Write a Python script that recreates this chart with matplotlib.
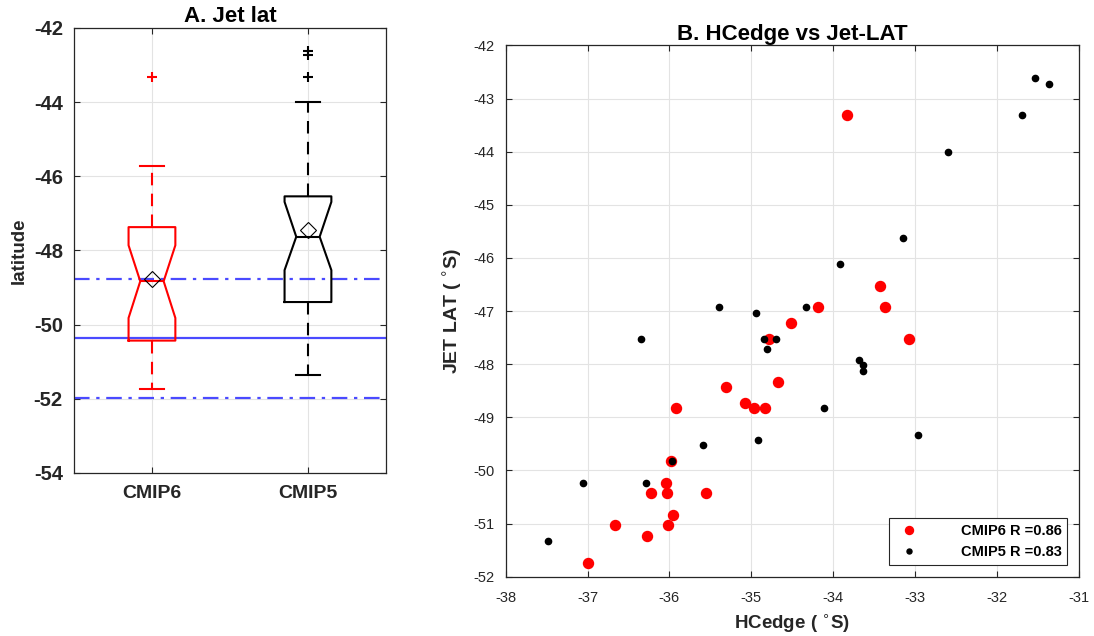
import matplotlib
matplotlib.use("Agg")
import matplotlib.pyplot as plt

plt.rcParams['font.family'] = ['Liberation Sans', 'DejaVu Sans']
plt.rcParams['axes.unicode_minus'] = False

# box statistics
models = ['CMIP6', 'CMIP5']
box_colors = ['red', 'black']
q1 = [-50.43, -49.39]
q3 = [-47.37, -46.54]
medians = [-48.83, -47.63]
means = [-48.78, -47.44]
whislo = [-51.73, -51.35]
whishi = [-45.71, -44.00]
notch_lo = [-49.82, -48.53]
notch_hi = [-47.86, -46.69]
outliers = [[-43.31], [-42.61, -42.72, -43.31]]

# reference lines (blue)
ref_mean = -50.37
ref_lo = -51.97
ref_hi = -48.77

# scatter data for panel B
cmip6_hc = [-37.00, -36.66, -36.27, -36.22, -36.04, -36.03, -36.02, -35.96,
            -35.98, -35.92, -35.55, -35.31, -35.08, -34.97, -34.83, -34.78,
            -34.67, -34.51, -34.18, -33.83, -33.43, -33.37, -33.07]
cmip6_jet = [-51.74, -51.03, -51.23, -50.43, -50.23, -50.43, -51.03, -50.83,
             -49.83, -48.83, -50.43, -48.42, -48.73, -48.83, -48.83, -47.52,
             -48.33, -47.22, -46.92, -43.31, -46.52, -46.92, -47.52]
cmip5_hc = [-37.48, -37.05, -36.35, -36.29, -35.97, -35.59, -35.39, -34.94,
            -34.92, -34.85, -34.81, -34.70, -34.33, -34.11, -33.92, -33.68,
            -33.64, -33.64, -33.15, -32.96, -32.60, -31.70, -31.54, -31.36]
cmip5_jet = [-51.33, -50.23, -47.52, -50.23, -49.83, -49.53, -46.92, -47.03,
             -49.43, -47.52, -47.72, -47.52, -46.92, -48.83, -46.12, -47.92,
             -48.02, -48.12, -45.62, -49.33, -44.01, -43.31, -42.61, -42.72]
r_cmip6 = 0.86
r_cmip5 = 0.83

fig = plt.figure(figsize=(10.94, 6.36), dpi=100)

def style_axes(ax):
    ax.grid(True, color='#e3e3e3', linewidth=0.8)
    ax.set_axisbelow(True)
    for s in ax.spines.values():
        s.set_color('#262626')
        s.set_linewidth(0.9)
    ax.tick_params(direction='in', top=True, right=True, length=4,
                   color='#262626', labelcolor='#262626')

# ---- panel A
ax1 = fig.add_axes([0.0676, 0.2563, 0.2852, 0.6997])
style_axes(ax1)
ax1.axhline(ref_mean, color='#4a4aff', lw=1.6)
ax1.axhline(ref_lo, color='#4a4aff', lw=1.6, ls=(0, (7, 3, 1.5, 3)))
ax1.axhline(ref_hi, color='#4a4aff', lw=1.6, ls=(0, (7, 3, 1.5, 3)))

for i in range(len(models)):
    st = [dict(med=medians[i], q1=q1[i], q3=q3[i], whislo=whislo[i],
               whishi=whishi[i], fliers=outliers[i], mean=means[i],
               cilo=notch_lo[i], cihi=notch_hi[i], label=models[i])]
    c = box_colors[i]
    ax1.bxp(st, positions=[i + 1], widths=0.3, shownotches=True, showmeans=True,
            boxprops=dict(color=c, lw=1.5),
            medianprops=dict(color=c, lw=1.5),
            whiskerprops=dict(color=c, lw=1.5, ls=(0, (6, 4))),
            capprops=dict(color=c, lw=1.5),
            flierprops=dict(marker='+', markeredgecolor=c, markersize=7, mew=1.5),
            meanprops=dict(marker='D', markerfacecolor='none', markeredgecolor='black',
                           markersize=8, mew=0.8))

ax1.set_xlim(0.5, 2.5)
ax1.set_ylim(-54, -42)
ax1.set_yticks(range(-54, -41, 2))
ax1.set_xticks([1, 2])
ax1.set_xticklabels(models, fontsize=14, fontweight='bold')
for lab in ax1.get_yticklabels():
    lab.set_fontsize(14.5)
    lab.set_fontweight('bold')
ax1.tick_params(axis='y', pad=8)
ax1.tick_params(axis='x', pad=9)
ax1.set_ylabel('latitude', fontsize=13.5, fontweight='bold', color='#262626', labelpad=4)
ax1.set_title('A. Jet lat', fontsize=16, fontweight='bold', pad=4)

# ---- panel B
ax2 = fig.add_axes([0.4622, 0.0932, 0.5240, 0.8354])
style_axes(ax2)
ax2.plot(cmip6_hc, cmip6_jet, 'o', color='red', markersize=7.2, ls='none',
         label='CMIP6 R =%.2f' % r_cmip6)
ax2.plot(cmip5_hc, cmip5_jet, 'o', color='black', markersize=4.5, ls='none',
         label='CMIP5 R =%.2f' % r_cmip5)
ax2.set_xlim(-38, -31)
ax2.set_ylim(-52, -42)
ax2.set_yticks(range(-52, -41))
ax2.tick_params(labelsize=10.5)
ax2.tick_params(axis='x', pad=10)
ax2.tick_params(axis='y', pad=8)
ax2.set_xlabel(r'HCedge ( $^{\circ}$S)', fontsize=13.5, fontweight='bold', color='#262626',
               labelpad=5)
ax2.set_ylabel(r'JET LAT ( $^{\circ}$S)', fontsize=14, fontweight='bold', color='#262626',
               labelpad=6)
ax2.set_title('B. HCedge vs Jet-LAT', fontsize=16, fontweight='bold', pad=4)
leg = ax2.legend(loc='lower right', fancybox=False, framealpha=1,
                 edgecolor='#262626', prop=dict(weight='bold', size=10.5),
                 handletextpad=2.5, borderaxespad=0.8, markerscale=0.8)
leg.get_frame().set_linewidth(0.8)

fig.savefig('out.png', dpi=100)
